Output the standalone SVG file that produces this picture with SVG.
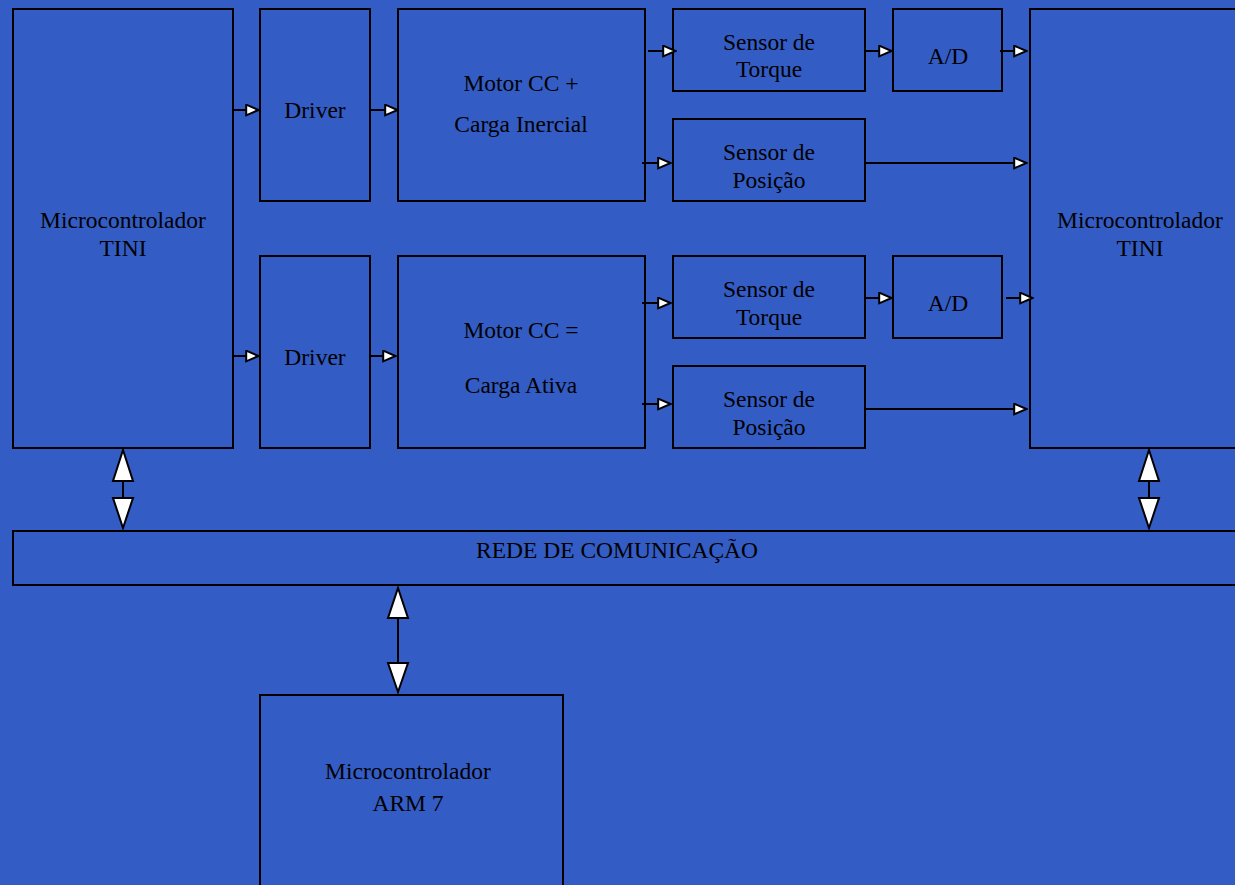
<svg xmlns="http://www.w3.org/2000/svg" width="1235" height="885" viewBox="0 0 1235 885">
<defs>
<style>
.b{fill:none;stroke:#000;stroke-width:2}
.t{font-family:"Liberation Serif","Times New Roman",serif;font-size:23.5px;fill:#000;text-anchor:middle}
.c{stroke:#000;stroke-width:2;fill:none}
.h{fill:#fff;stroke:#000;stroke-width:2;stroke-linejoin:miter}
</style>
<marker id="a" viewBox="0 0 15 13" refX="14" refY="6.5" markerWidth="15" markerHeight="13" markerUnits="userSpaceOnUse" orient="auto">
<path d="M1.2,1.2 L13.5,6.5 L1.2,11.8 Z" fill="#fff" stroke="#000" stroke-width="2"/>
</marker>
</defs>
<rect width="1235" height="885" fill="#345CC5"/>
<g id="mcu1"><rect class="b" x="13" y="9" width="220" height="439"/><text class="t" x="123" y="228">Microcontrolador</text><text class="t" x="123" y="256">TINI</text></g>
<g id="driver1"><rect class="b" x="260" y="9" width="110" height="192"/><text class="t" x="315" y="118">Driver</text></g>
<g id="motor1"><rect class="b" x="398" y="9" width="247" height="192"/><text class="t" x="521" y="91">Motor CC +</text><text class="t" x="521" y="132">Carga Inercial</text></g>
<g id="torque1"><rect class="b" x="673" y="9" width="192" height="82"/><text class="t" x="769" y="50">Sensor de</text><text class="t" x="769" y="77">Torque</text></g>
<g id="ad1"><rect class="b" x="893" y="9" width="109" height="82"/><text class="t" x="948" y="64">A/D</text></g>
<g id="pos1"><rect class="b" x="673" y="119" width="192" height="82"/><text class="t" x="769" y="160">Sensor de</text><text class="t" x="769" y="188">Posição</text></g>
<g id="mcu2"><rect class="b" x="1030" y="9" width="215" height="439"/><text class="t" x="1140" y="228">Microcontrolador</text><text class="t" x="1140" y="256">TINI</text></g>
<g id="driver2"><rect class="b" x="260" y="256" width="110" height="192"/><text class="t" x="315" y="365">Driver</text></g>
<g id="motor2"><rect class="b" x="398" y="256" width="247" height="192"/><text class="t" x="521" y="338">Motor CC =</text><text class="t" x="521" y="393">Carga Ativa</text></g>
<g id="torque2"><rect class="b" x="673" y="256" width="192" height="82"/><text class="t" x="769" y="297">Sensor de</text><text class="t" x="769" y="325">Torque</text></g>
<g id="ad2"><rect class="b" x="893" y="256" width="109" height="82"/><text class="t" x="948" y="311">A/D</text></g>
<g id="pos2"><rect class="b" x="673" y="366" width="192" height="82"/><text class="t" x="769" y="407">Sensor de</text><text class="t" x="769" y="435">Posição</text></g>
<g id="rede"><rect class="b" x="13" y="531" width="1232" height="54"/><text class="t" x="617" y="558">REDE DE COMUNICAÇÃO</text></g>
<g id="arm"><rect class="b" x="260" y="695" width="303" height="200"/><text class="t" x="408" y="779">Microcontrolador</text><text class="t" x="408" y="811">ARM 7</text></g>
<g id="connectors">
<line class="c" x1="233" y1="110" x2="259" y2="110" marker-end="url(#a)"/>
<line class="c" x1="370" y1="110" x2="398" y2="110" marker-end="url(#a)"/>
<line class="c" x1="648" y1="51" x2="676" y2="51" marker-end="url(#a)"/>
<line class="c" x1="642" y1="163" x2="671" y2="163" marker-end="url(#a)"/>
<line class="c" x1="865" y1="51" x2="892" y2="51" marker-end="url(#a)"/>
<line class="c" x1="1000" y1="51" x2="1027" y2="51" marker-end="url(#a)"/>
<line class="c" x1="865" y1="163" x2="1027" y2="163" marker-end="url(#a)"/>
<line class="c" x1="233" y1="356" x2="259" y2="356" marker-end="url(#a)"/>
<line class="c" x1="370" y1="356" x2="396" y2="356" marker-end="url(#a)"/>
<line class="c" x1="642" y1="303" x2="671" y2="303" marker-end="url(#a)"/>
<line class="c" x1="642" y1="404" x2="671" y2="404" marker-end="url(#a)"/>
<line class="c" x1="865" y1="298" x2="892" y2="298" marker-end="url(#a)"/>
<line class="c" x1="1006" y1="298" x2="1033" y2="298" marker-end="url(#a)"/>
<line class="c" x1="865" y1="409" x2="1027" y2="409" marker-end="url(#a)"/>
<line class="c" x1="123" y1="480" x2="123" y2="498"/>
<path class="h" d="M123,450 L133,481 L113,481 Z"/>
<path class="h" d="M123,528 L133,498 L113,498 Z"/>
<line class="c" x1="1149" y1="480" x2="1149" y2="498"/>
<path class="h" d="M1149,450 L1159,481 L1139,481 Z"/>
<path class="h" d="M1149,528 L1159,498 L1139,498 Z"/>
<line class="c" x1="398" y1="617" x2="398" y2="664"/>
<path class="h" d="M398,588 L408,618 L388,618 Z"/>
<path class="h" d="M398,692 L408,663 L388,663 Z"/>
</g>
</svg>
